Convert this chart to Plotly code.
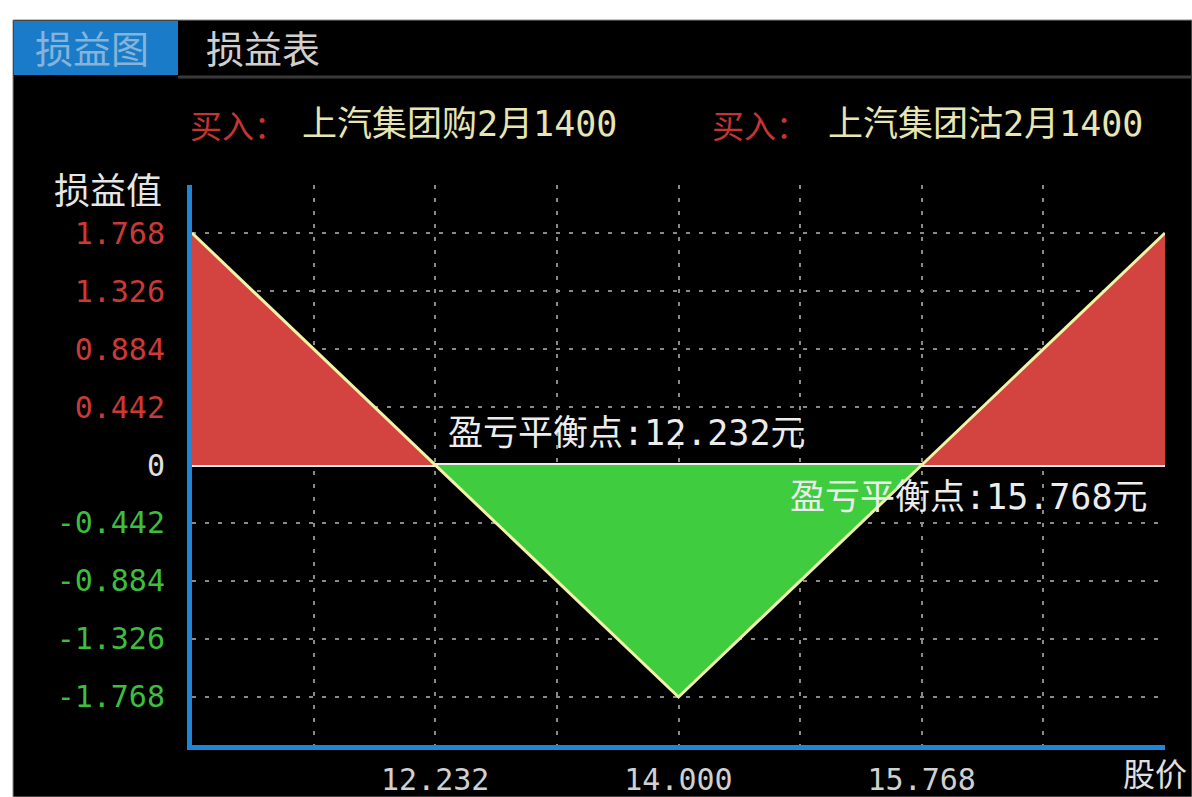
import plotly.graph_objects as go

# ---- data ----
prices = [10.464, 12.232, 14.000, 15.768, 17.536]
pnl = [1.768, 0.000, -1.768, 0.000, 1.768]
breakevens = [12.232, 15.768]
x_grid_vals = [11.348, 12.232, 13.116, 14.000, 14.884, 15.768, 16.652]
x_tick_text = ["", "12.232", "", "14.000", "", "15.768", ""]
y_tick_vals = [1.768, 1.326, 0.884, 0.442, 0, -0.442, -0.884, -1.326, -1.768]
y_tick_text = ["1.768", "1.326", "0.884", "0.442", "0", "-0.442", "-0.884", "-1.326", "-1.768"]
legs = [("买入：", "上汽集团购2月1400"), ("买入：", "上汽集团沽2月1400")]

W, H = 1192, 797
def px(x):
    return x / W
def py(y):
    return 1 - y / H

RED = "#d34440"
GREEN = "#3fcc3f"
LINE = "#f2f2a6"
BLUE = "#1e86d6"
MONO = "DejaVu Sans Mono, Noto Sans CJK SC"
CJK = "Noto Sans CJK SC"

def tick_color(v):
    if v > 0:
        return "#c93a38"
    if v < 0:
        return "#3cbf3c"
    return "#e0e0e0"

fig = go.Figure()
fig.add_trace(go.Scatter(x=prices[0:2], y=pnl[0:2], fill="tozeroy", fillcolor=RED,
                         mode="none", hoverinfo="skip"))
fig.add_trace(go.Scatter(x=prices[1:4], y=pnl[1:4], fill="tozeroy", fillcolor=GREEN,
                         mode="none", hoverinfo="skip"))
fig.add_trace(go.Scatter(x=prices[3:5], y=pnl[3:5], fill="tozeroy", fillcolor=RED,
                         mode="none", hoverinfo="skip"))
fig.add_trace(go.Scatter(x=prices, y=pnl, mode="lines", line=dict(color=LINE, width=3)))

shapes = [
    dict(type="rect", xref="paper", yref="paper", x0=px(13), x1=1, y0=0, y1=py(20),
         fillcolor="#000000", line=dict(color="#888888", width=1), layer="below"),
    dict(type="rect", xref="paper", yref="paper", x0=px(14), x1=px(178), y0=py(75), y1=py(21),
         fillcolor="#1a7cc9", line=dict(width=0), layer="below"),
    dict(type="line", xref="paper", yref="paper", x0=px(178), x1=1, y0=py(77), y1=py(77),
         line=dict(color="#3a3a3a", width=3), layer="below"),
]

annotations = [
    dict(text="损益图", x=px(92), y=py(46), font=dict(family=CJK, size=38, color="#86b3d8")),
    dict(text="损益表", x=px(263), y=py(46), font=dict(family=CJK, size=38, color="#cfcfcf")),
    dict(text="损益值", x=px(108), y=py(188), font=dict(family=CJK, size=36, color="#e6e6e6")),
    dict(text="股价", x=px(1189), y=py(772), xanchor="right",
         font=dict(family=CJK, size=32, color="#e0e0e0")),
]
for (lab, name), (x0, x1) in zip(legs, [(188, 300), (710, 826)]):
    annotations.append(dict(text=lab, x=px(x0), y=py(124), xanchor="left",
                            font=dict(family=CJK, size=32, color="#c43532")))
    annotations.append(dict(text=name, x=px(x1), y=py(124), xanchor="left",
                            font=dict(family=MONO, size=35, color="#e6e6b4")))
for be, (x0, y0) in zip(breakevens, [(446, 433), (788, 497)]):
    annotations.append(dict(text="盈亏平衡点:%.3f元" % be, x=px(x0), y=py(y0), xanchor="left",
                            font=dict(family=MONO, size=35, color="#ececec")))
for a in annotations:
    a.update(xref="paper", yref="paper", showarrow=False)
    a.setdefault("xanchor", "center")
    a.setdefault("yanchor", "middle")

fig.update_layout(
    width=W, height=H,
    margin=dict(l=0, r=0, t=0, b=0),
    paper_bgcolor="#ffffff",
    plot_bgcolor="rgba(0,0,0,0)",
    showlegend=False,
    shapes=shapes,
    annotations=annotations,
    xaxis=dict(
        domain=[px(192), px(1165)], range=[prices[0], prices[-1]],
        tickvals=x_grid_vals, ticktext=x_tick_text, ticks="",
        showgrid=True, gridcolor="#8a8a8a", gridwidth=2, griddash="4px,9px",
        showline=True, linecolor=BLUE, linewidth=5, zeroline=False,
        tickfont=dict(family=MONO, size=30, color="#d0d0d0"),
        ticklabelstandoff=4, fixedrange=True,
    ),
    yaxis=dict(
        domain=[py(745), py(185)], range=[-2.134, 2.134],
        tickvals=y_tick_vals,
        ticktext=['<span style="color:%s">%s</span>' % (tick_color(v), t)
                  for v, t in zip(y_tick_vals, y_tick_text)],
        ticks="",
        showgrid=True, gridcolor="#8a8a8a", gridwidth=2, griddash="4px,9px",
        showline=True, linecolor=BLUE, linewidth=5,
        zeroline=True, zerolinecolor="#ececec", zerolinewidth=4,
        tickfont=dict(family=MONO, size=30, color="#e0e0e0"),
        ticklabelstandoff=16, fixedrange=True,
    ),
)

fig.write_html("out.html", config={"displayModeBar": False},
               post_script="document.body.style.margin='0px';document.body.style.overflow='hidden';")
